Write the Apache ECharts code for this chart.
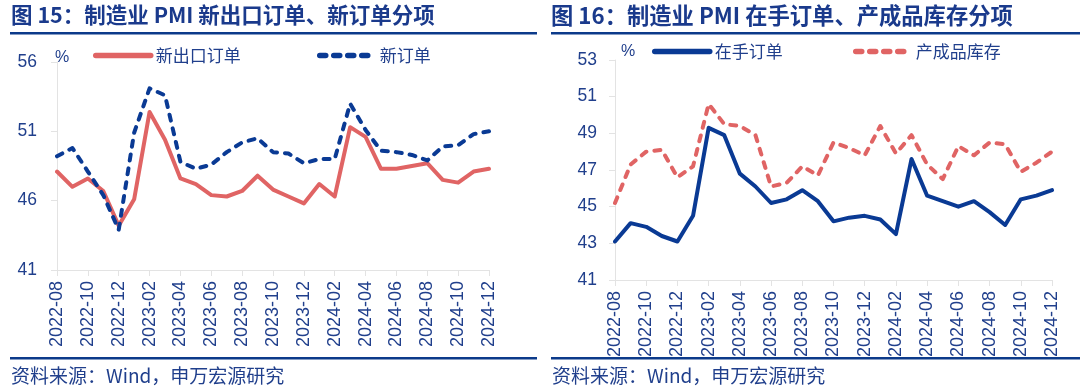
<!DOCTYPE html>
<html>
<head>
<meta charset="utf-8">
<script src="https://cdn.jsdelivr.net/npm/echarts@6/dist/echarts.min.js"></script>
<style>
html,body{margin:0;padding:0;background:#fff;}
#c{width:1080px;height:391px;}
</style>
</head>
<body>
<div id="c"></div>
<script>
const months = ['2022-08','2022-09','2022-10','2022-11','2022-12','2023-01','2023-02','2023-03','2023-04','2023-05','2023-06','2023-07','2023-08','2023-09','2023-10','2023-11','2023-12','2024-01','2024-02','2024-03','2024-04','2024-05','2024-06','2024-07','2024-08','2024-09','2024-10','2024-11','2024-12'];
const newExportOrders = [48.1,47.0,47.6,46.7,44.2,46.1,52.4,50.4,47.6,47.2,46.4,46.3,46.7,47.8,46.8,46.3,45.8,47.2,46.3,51.3,50.6,48.3,48.3,48.5,48.7,47.5,47.3,48.1,48.3];
const newOrders = [49.2,49.8,48.1,46.4,43.9,50.9,54.1,53.6,48.8,48.3,48.6,49.5,50.2,50.5,49.5,49.4,48.7,49.0,49.0,53.0,51.1,49.6,49.5,49.3,48.9,49.9,50.0,50.8,51.0];
const backlogOrders = [43.1,44.1,43.9,43.4,43.1,44.5,49.3,48.9,46.8,46.1,45.2,45.4,45.9,45.3,44.2,44.4,44.5,44.3,43.5,47.6,45.6,45.3,45.0,45.3,44.7,44.0,45.4,45.6,45.9];
const finishedInventory = [45.2,47.3,48.0,48.1,46.6,47.2,50.6,49.5,49.4,48.9,46.1,46.3,47.2,46.7,48.5,48.2,47.8,49.4,47.9,48.9,47.3,46.5,48.3,47.8,48.5,48.4,46.9,47.4,48.0];
const leftYTicks = [41,46,51,56];
const rightYTicks = [41,43,45,47,49,51,53];
const title1 = '图 15：制造业 PMI 新出口订单、新订单分项';
const title2 = '图 16：制造业 PMI 在手订单、产成品库存分项';
const sourceText = '资料来源：Wind，申万宏源研究';

const RED = '#e06464';
const BLUE = '#0a3a94';
const TXT = '#203f8c';
const AX = '#e3e3e3';
const CJK = '"Noto Sans CJK SC", sans-serif';
const NUM = '"Liberation Sans", "Noto Sans CJK SC", sans-serif';

function xAxis(gridIndex){
  return {
    type:'category', gridIndex, data: months, boundaryGap:false,
    axisLine:{show:true, lineStyle:{color:AX, width:1}},
    axisTick:{show:true, interval:1, length:6, lineStyle:{color:AX}},
    axisLabel:{interval:1, rotate:90, margin:11, color:TXT, fontSize:18, fontFamily:NUM}
  };
}
function yAxis(gridIndex, min, max, ticks, margin){
  return {
    type:'value', gridIndex, min, max,
    axisLine:{show:true, lineStyle:{color:AX}},
    axisTick:{show:true, length:6, lineStyle:{color:AX}, customValues: ticks},
    axisLabel:{color:TXT, fontSize:17.5, fontFamily:NUM, margin, customValues: ticks},
    splitLine:{show:false}
  };
}
const dash = [6,8];
function legend(name, left, top){
  return {
    data:[name], left, top, itemWidth:55, itemHeight:12, padding:0, itemGap:0,
    itemStyle:{opacity:0},
    lineStyle:{width:5.5},
    textStyle:{color:TXT, fontSize:17, fontFamily:CJK}
  };
}

const chart = echarts.init(document.getElementById('c'), null, {renderer:'canvas'});
chart.setOption({
  animation:false,
  backgroundColor:'#fff',
  grid:[
    {left:57, right:1080-489, top:62, bottom:391-270},
    {left:615, right:1080-1052, top:60, bottom:391-280}
  ],
  xAxis:[xAxis(0), xAxis(1)],
  yAxis:[yAxis(0,41,56,leftYTicks,20), yAxis(1,41,53,rightYTicks,18)],
  legend:[
    legend('新出口订单', 93, 47),
    legend('新订单', 317, 47),
    legend('在手订单', 652, 43),
    legend('产成品库存', 853, 43)
  ],
  series:[
    {name:'新出口订单', type:'line', xAxisIndex:0, yAxisIndex:0, data:newExportOrders, symbol:'none', color:RED,
      lineStyle:{color:RED, width:4, cap:'round', join:'round'}},
    {name:'新订单', type:'line', xAxisIndex:0, yAxisIndex:0, data:newOrders, symbol:'none', color:BLUE,
      lineStyle:{color:BLUE, width:4, type:dash, cap:'round', join:'round'}},
    {name:'在手订单', type:'line', xAxisIndex:1, yAxisIndex:1, data:backlogOrders, symbol:'none', color:BLUE,
      lineStyle:{color:BLUE, width:4, cap:'round', join:'round'}},
    {name:'产成品库存', type:'line', xAxisIndex:1, yAxisIndex:1, data:finishedInventory, symbol:'none', color:RED,
      lineStyle:{color:RED, width:4, type:dash, cap:'round', join:'round'}}
  ],
  graphic:[
    {type:'text', left:11, top:4, style:{text:title1, font:'bold 21.5px "Noto Sans CJK SC", sans-serif', fill:'#1a3a8c'}},
    {type:'text', left:551, top:4, style:{text:title2, font:'bold 22.3px "Noto Sans CJK SC", sans-serif', fill:'#1a3a8c'}},
    {type:'rect', shape:{x:10, y:32, width:527, height:2.5}, style:{fill:'#0c3a8a'}},
    {type:'rect', shape:{x:551, y:32, width:529, height:2.5}, style:{fill:'#0c3a8a'}},
    {type:'rect', shape:{x:10, y:357, width:527, height:2.5}, style:{fill:'#0c3a8a'}},
    {type:'rect', shape:{x:551, y:357, width:529, height:2.5}, style:{fill:'#0c3a8a'}},
    {type:'text', left:11, top:366, style:{text:sourceText, font:'19px "Noto Sans CJK SC", sans-serif', fill:TXT}},
    {type:'text', left:552, top:366, style:{text:sourceText, font:'19px "Noto Sans CJK SC", sans-serif', fill:TXT}},
    {type:'text', left:55, top:50, style:{text:'%', font:'16px "Liberation Sans", sans-serif', fill:TXT}},
    {type:'text', left:621, top:44, style:{text:'%', font:'16px "Liberation Sans", sans-serif', fill:TXT}}
  ]
});
</script>
</body>
</html>
